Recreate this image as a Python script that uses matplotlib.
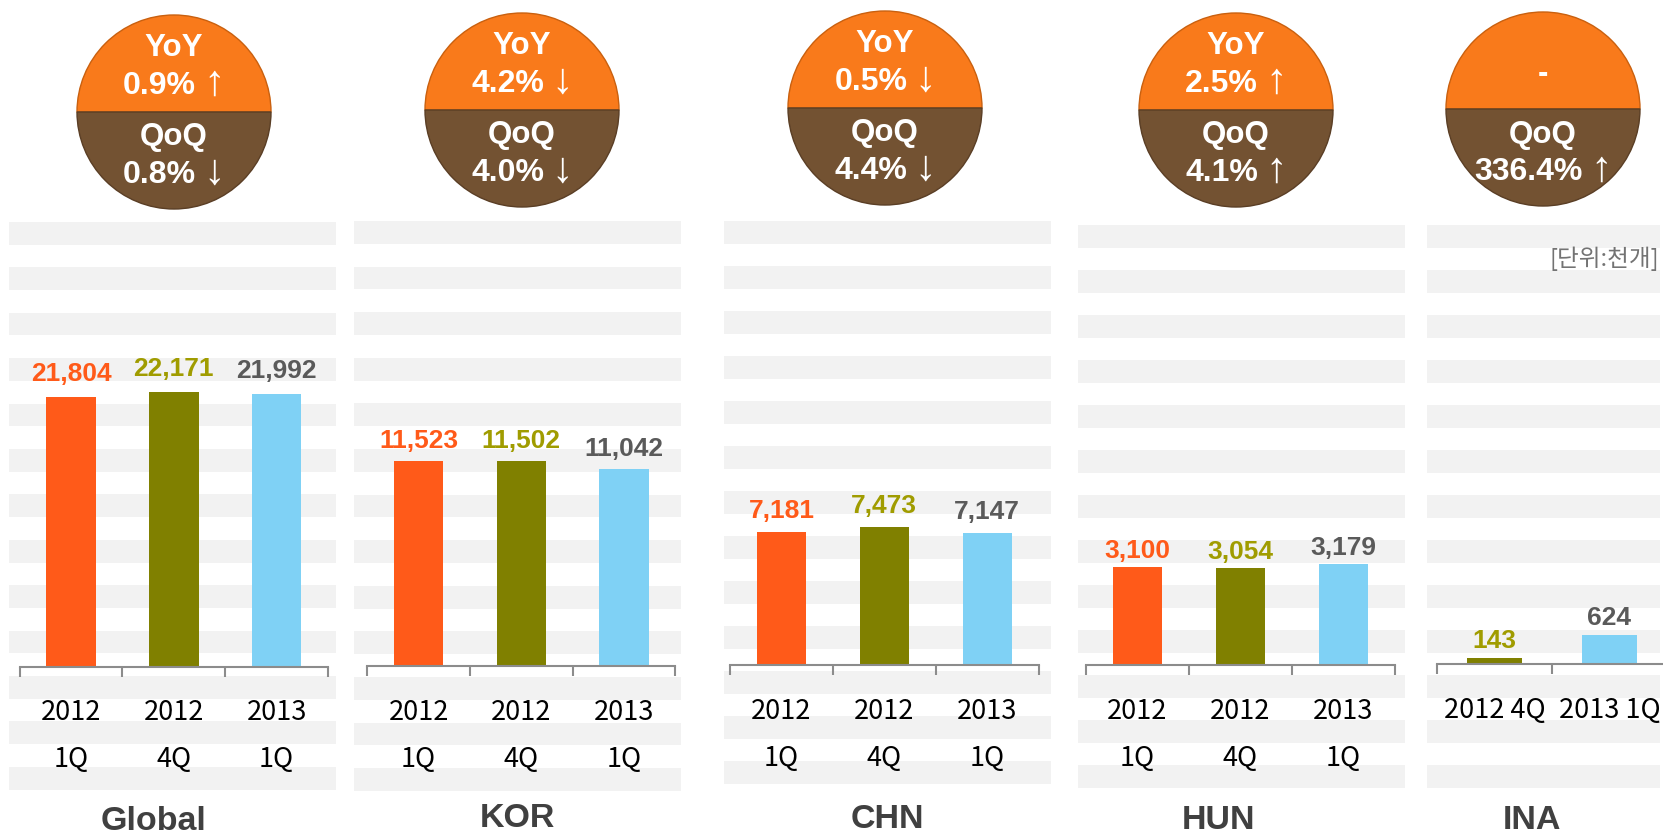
"""Quarterly sales by region: bar panels with YoY / QoQ badges."""
import matplotlib
matplotlib.use('Agg')
import matplotlib.pyplot as plt
from matplotlib.patches import Rectangle, Wedge

plt.rcParams['font.family'] = ['Liberation Sans', 'DejaVu Sans']

W, H = 1663, 835
PT = 72 / 100  # pixels -> points at dpi 100

# ------------------------------------------------------------
# data (thousand units)
# ------------------------------------------------------------
regions = ['Global', 'KOR', 'CHN', 'HUN', 'INA']
quarters = ['2012 1Q', '2012 4Q', '2013 1Q']
global_vals = [21804, 22171, 21992]
kor_vals = [11523, 11502, 11042]
chn_vals = [7181, 7473, 7147]
hun_vals = [3100, 3054, 3179]
ina_vals = [None, 143, 624]      # no 2012 1Q figure for INA
unit_label = '[단위:천개]'

values = [global_vals, kor_vals, chn_vals, hun_vals, ina_vals]

bar_colors = ['#FF5A19', '#808000', '#7FD1F5']
label_colors = ['#FF5A19', '#A09C00', '#5A5A5A']
axis_gray = '#8C8C8C'
stripe_gray = '#F2F2F2'
badge_top = '#F97A1B'
badge_bottom = '#735232'
title_gray = '#404040'

# ------------------------------------------------------------
# layout, in pixels of the 1663x835 canvas
# ------------------------------------------------------------
# axis x from / to (outer category edges), baseline y, y-axis max
axis_x0 = [19.7, 367.3, 730.0, 1085.7, 1437.3]
axis_x1 = [328.0, 675.3, 1038.7, 1395.0, 1666.7]
baseline = [666.5, 665.7, 665.3, 665.0, 664.3]
ymax = [36000, 25000, 24000, 14000, 9500]
label_gap = [16, 13, 14, 9, 10]
axes_top = 221
# background stripes: x from, x to, first top, period
stripes = [(9, 336, 222, 45.4), (354, 681, 221, 45.6), (724, 1051, 221, 45.0),
           (1078, 1405, 225, 45.0), (1427, 1660, 225, 45.0)]
# badge circle centre
badges = [(174, 112), (522, 110), (885, 108), (1236, 110), (1543, 109)]
radius = 97
# region title centre x / baseline y
titles = [(153, 830), (517, 827), (887, 828), (1219, 829), (1532, 829)]


def pct_parts(new, old):
    p = (new / old - 1) * 100
    return f'{abs(p):.1f}%', ('\u2191' if p > 0 else '\u2193')


fig = plt.figure(figsize=(W / 100, H / 100), dpi=100)
fig.patch.set_facecolor('white')
renderer = fig.canvas.get_renderer()

bg = fig.add_axes([0, 0, 1, 1])
bg.set_xlim(0, W)
bg.set_ylim(H, 0)
bg.axis('off')

txt = dict(va='baseline', color='white', fontsize=22.5, fontweight='bold', zorder=3)


def badge_value(x, y, new, old):
    # percentage and arrow as two pieces, centred together on x
    num, arrow = pct_parts(new, old)
    t1 = bg.text(0, y, num, ha='left', **{**txt, 'fontsize': 23})
    t2 = bg.text(0, y + 1, arrow, ha='left', **{**txt, 'fontsize': 31})
    w1 = t1.get_window_extent(renderer).width
    w2 = t2.get_window_extent(renderer).width
    gap = 7
    start = x - (w1 + gap + w2) / 2
    t1.set_x(start)
    t2.set_x(start + w1 + gap)


for p, region in enumerate(regions):
    vals = values[p]

    # striped backdrop
    sx0, sx1, sy0, per = stripes[p]
    for k in range(13):
        bg.add_patch(Rectangle((sx0, sy0 + k * per), sx1 - sx0, 22.7,
                               facecolor=stripe_gray, edgecolor='none', zorder=0))

    # YoY / QoQ badge
    cx, cy = badges[p]
    bg.add_patch(Wedge((cx, cy), radius, 180, 360, facecolor=badge_top,
                       edgecolor='#C9600F', lw=1, zorder=2))
    bg.add_patch(Wedge((cx, cy), radius, 0, 180, facecolor=badge_bottom,
                       edgecolor='#5A3E25', lw=1, zorder=2))
    if vals[0] is not None:
        bg.text(cx, cy - 55.7, 'YoY', ha='center', **txt)
        badge_value(cx, cy - 18.3, vals[2], vals[0])
    else:
        bg.text(cx, cy - 27, '-', ha='center', **txt)
    bg.text(cx, cy + 33.5, 'QoQ', ha='center', **txt)
    badge_value(cx, cy + 71, vals[2], vals[1])

    # bars
    idx = [i for i, v in enumerate(vals) if v is not None]
    cats = [quarters[i] for i in idx]
    heights = [vals[i] for i in idx]
    n = len(cats)
    rect = [axis_x0[p] / W, 1 - baseline[p] / H,
            (axis_x1[p] - axis_x0[p]) / W, (baseline[p] - axes_top) / H]
    ax = fig.add_axes(rect)
    ax.patch.set_alpha(0)
    ax.bar(range(n), heights, width=0.48, color=[bar_colors[i] for i in idx], zorder=2)
    ax.set_xlim(-0.5, n - 0.5)
    ax.set_ylim(0, ymax[p])
    for s in ['left', 'right', 'top']:
        ax.spines[s].set_visible(False)
    ax.spines['bottom'].set_color(axis_gray)
    ax.spines['bottom'].set_linewidth(1.5)
    ax.set_yticks([])
    ax.set_xticks([])
    ax.set_xticks([i - 0.5 for i in range(n + 1)], minor=True)
    ax.tick_params(axis='x', which='minor', length=10 * PT, width=1.5,
                   color=axis_gray, direction='out', labelbottom=False)

    for j, (i, v) in enumerate(zip(idx, heights)):
        ax.annotate(f'{v:,}', xy=(j, v), xytext=(0, label_gap[p] * PT),
                    textcoords='offset points', ha='center', va='baseline',
                    fontsize=19, fontweight='bold', color=label_colors[i],
                    annotation_clip=False)
        lines = cats[j].split(' ') if n == 3 else [cats[j]]
        for k, line in enumerate(lines):
            ax.annotate(line, xy=(j, 0), xycoords=('data', 'axes fraction'),
                        xytext=(0, -(54 + 47 * k) * PT), textcoords='offset points',
                        ha='center', va='baseline', fontsize=19.5, color='black',
                        family=['Noto Sans CJK KR', 'DejaVu Sans'],
                        annotation_clip=False)

    # region title
    tx, ty = titles[p]
    bg.text(tx, ty, region, ha='center', va='baseline', fontsize=24.5,
            fontweight='bold', color=title_gray)

bg.text(1659, 259, unit_label, ha='right', va='center', fontsize=17,
        color='#737373', family=['Noto Sans CJK KR', 'DejaVu Sans'])

fig.savefig('out.png', dpi=100, facecolor='white')
